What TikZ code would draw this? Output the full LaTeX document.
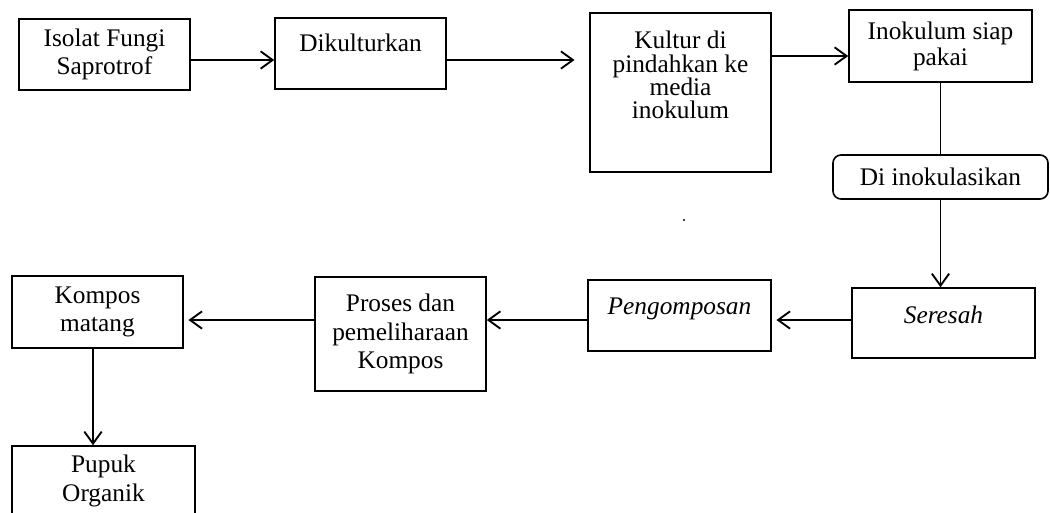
\documentclass[tikz,border=0pt]{standalone}
\usepackage{fontspec}
\setmainfont{Liberation Serif}
\usetikzlibrary{arrows.meta}
\tikzset{
  box/.style={draw, line width=1.2pt, inner sep=0pt, align=center, font=\fontsize{19}{21.5}\selectfont},
}
\begin{document}
\begin{tikzpicture}[x=0.75pt,y=0.75pt,yscale=-1,xscale=1, >={Straight Barb[length=9pt,width=13pt]}, line width=1.4pt]
\useasboundingbox (0,0) rectangle (1050,512);

%Top row
\node [box, minimum width=128.25pt, minimum height=53.25pt] (isolat) at (104.5,54.5) {Isolat Fungi\\Saprotrof};
\node [box, minimum width=128.25pt, minimum height=53.25pt, text depth=16pt] (dikultur) at (360.5,53.5) {Dikulturkan};
\node [box, minimum width=135.75pt, minimum height=119.25pt, text depth=26pt, font=\fontsize{19}{17.5}\selectfont] (pindah) at (680.5,92.5) {Kultur di\\pindahkan ke\\media\\inokulum};
\node [box, minimum width=137.25pt, minimum height=54pt, font=\fontsize{19}{19.5}\selectfont] (inokulum) at (940.5,46) {Inokulum siap\\pakai};
\node [box, rounded corners=6pt, minimum width=161.25pt, minimum height=33pt] (inokulasi) at (940.5,177) {Di inokulasikan};

%Bottom row
\node [box, minimum width=137.25pt, minimum height=52.5pt, text depth=12pt] (seresah) at (943.5,323) {\textit{Seresah}};
\node [box, minimum width=137.25pt, minimum height=53.25pt, text depth=14pt] (pengomposan) at (679.5,315.5) {\textit{Pengomposan}};
\node [box, minimum width=128.25pt, minimum height=85.5pt] (proses) at (400.5,334) {Proses dan\\pemeliharaan\\Kompos};
\node [box, minimum width=128.25pt, minimum height=54pt] (matang) at (97.5,312) {Kompos\\matang};
\node [box, minimum width=137.25pt, minimum height=52.5pt] (pupuk) at (103.5,481) {Pupuk\\Organik};

%Arrows
\draw[->] (isolat.east |- 0,60) -- (dikultur.west |- 0,60);
\draw[->, shorten >=11pt] (dikultur.east |- 0,60) -- (pindah.west |- 0,60);
\draw[->] (pindah.east |- 0,56) -- (inokulum.west |- 0,56);
\draw (inokulum.south) -- (inokulasi.north);
\draw[->] (inokulasi.south) -- (inokulasi.south |- seresah.north);
\draw[->, shorten >=3.5pt] (seresah.west |- 0,320) -- (pengomposan.east |- 0,320);
\draw[->] (pengomposan.west |- 0,320) -- (proses.east |- 0,320);
\draw[->, shorten >=3.5pt] (proses.west |- 0,320) -- (matang.east |- 0,320);
\draw[->] (matang.south -| 93,0) -- (pupuk.north -| 93,0);

\fill (684,220) circle (1.2);
\end{tikzpicture}
\end{document}
